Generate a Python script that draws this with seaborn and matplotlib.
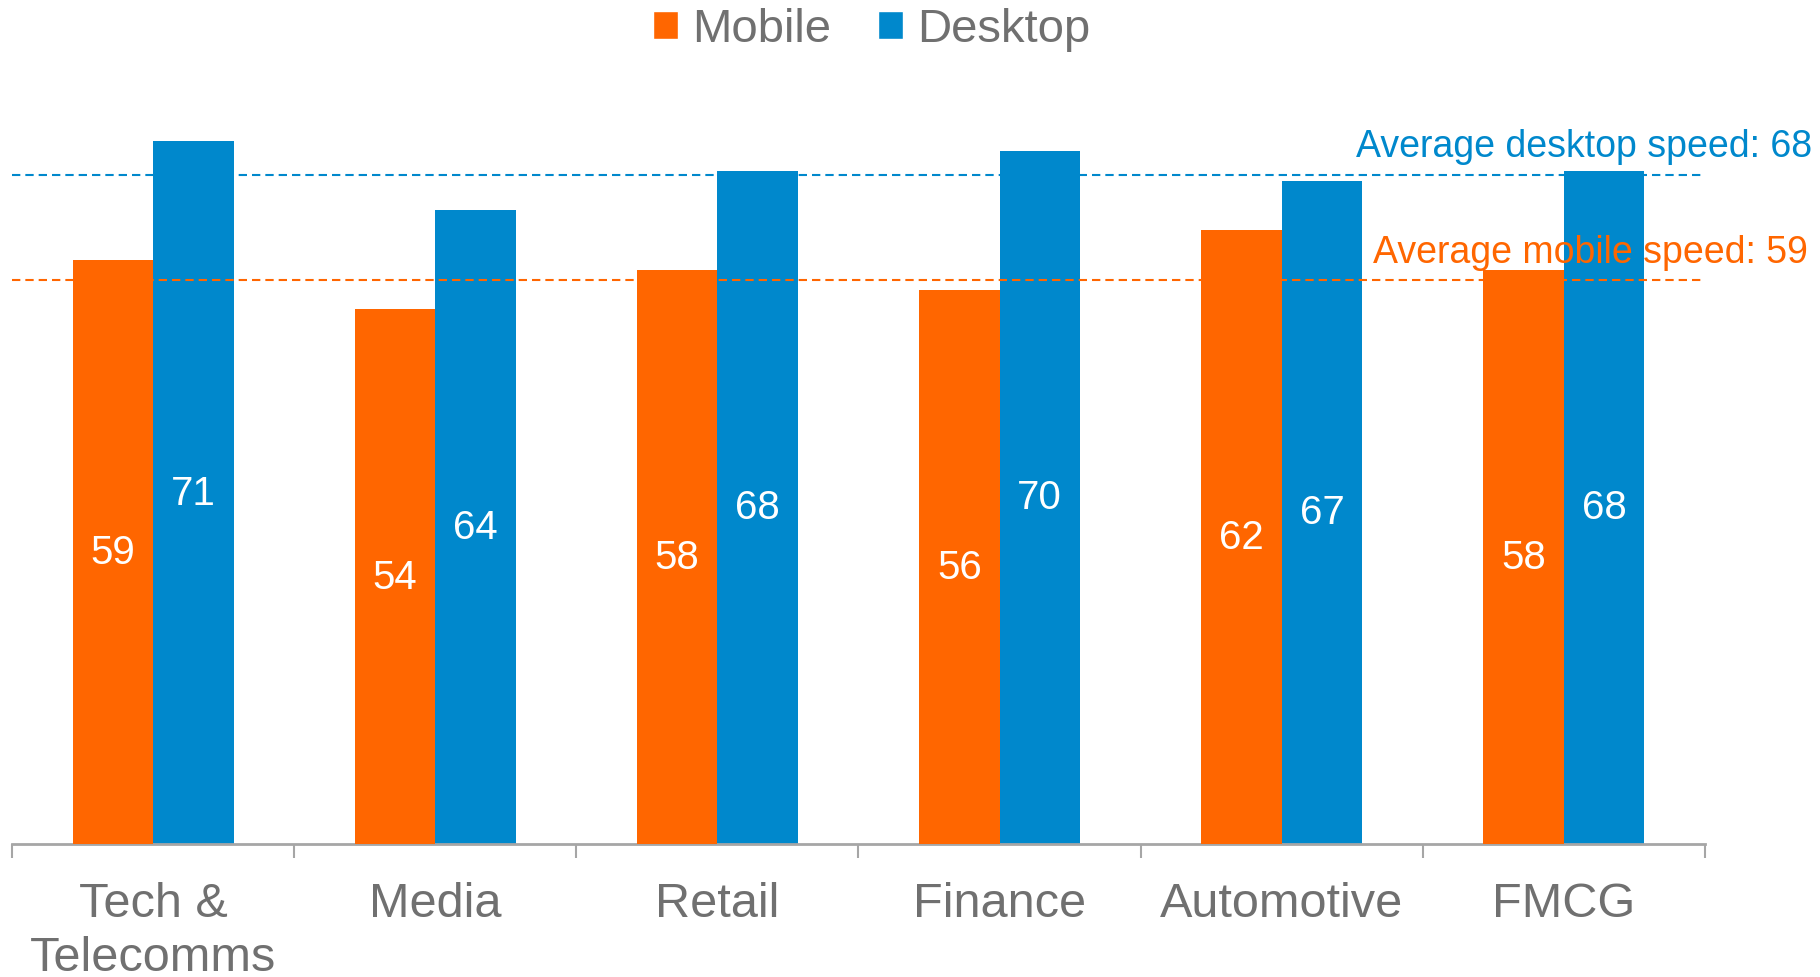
import matplotlib
matplotlib.use("Agg")
import matplotlib.pyplot as plt
import seaborn as sns
import pandas as pd
from matplotlib.ticker import FixedLocator

categories = ["Tech &\nTelecomms", "Media", "Retail", "Finance", "Automotive", "FMCG"]
mobile = [59, 54, 58, 56, 62, 58]
desktop = [71, 64, 68, 70, 67, 68]
series = ["Mobile", "Desktop"]
avg_desktop = 68
avg_mobile = 59
# positions of the dashed reference lines as drawn in the picture
desktop_line = 67.6
mobile_line = 57.0

ORANGE = "#FF6600"
BLUE = "#0088CC"
GREY = "#707070"

sns.set_theme(style="white")
plt.rcParams["font.family"] = ["Liberation Sans", "DejaVu Sans"]

df = pd.DataFrame({
    "category": categories * 2,
    "value": mobile + desktop,
    "device": [series[0]] * len(categories) + [series[1]] * len(categories),
})

fig = plt.figure(figsize=(18.2, 9.78), dpi=100)
ax = fig.add_axes([12 / 1820, 133 / 978, (1705 - 12) / 1820, 742 / 978])

sns.barplot(data=df, x="category", y="value", hue="device",
            palette={"Mobile": ORANGE, "Desktop": BLUE}, saturation=1,
            width=0.57, gap=0, ax=ax, legend=True, errorbar=None)

# z-order: desktop line < desktop bars < mobile line < mobile bars
for cont, lab in zip(ax.containers, series):
    for p in cont:
        p.set_zorder(4 if lab == "Mobile" else 2)
        p.set_linewidth(0)

ax.set_ylim(0, 742 / 9.9)
ax.set_xlim(-0.5, len(categories) - 0.5)

ax.axhline(desktop_line, color=BLUE, lw=1.5, dashes=(4, 2.4), zorder=1)
ax.axhline(mobile_line, color=ORANGE, lw=1.5, dashes=(4, 2.4), zorder=3)

tr = ax.get_yaxis_transform()
ax.text(1.063, desktop_line + 1.9, f"Average desktop speed: {avg_desktop}",
        transform=tr, ha="right", va="baseline", color=BLUE, fontsize=27,
        clip_on=False, zorder=6)
ax.text(1.061, mobile_line + 1.8, f"Average mobile speed: {avg_mobile}",
        transform=tr, ha="right", va="baseline", color=ORANGE, fontsize=27,
        clip_on=False, zorder=6)

# value labels centered inside bars
for cont in ax.containers:
    ax.bar_label(cont, labels=[f"{v:g}" for v in cont.datavalues],
                 label_type="center", color="white", fontsize=29, zorder=7)

# axes styling
for s in ["top", "right", "left"]:
    ax.spines[s].set_visible(False)
ax.spines["bottom"].set_color("#A6A6A6")
ax.spines["bottom"].set_linewidth(2)
ax.set_yticks([])
ax.set_xlabel("")
ax.set_ylabel("")
ax.xaxis.set_minor_locator(FixedLocator([i - 0.5 for i in range(len(categories) + 1)]))
ax.tick_params(axis="x", which="minor", bottom=True, length=10, width=1.5,
               color="#A6A6A6", direction="out")
ax.tick_params(axis="x", which="major", bottom=False, length=0, pad=27,
               labelsize=35, labelcolor=GREY)
for t in ax.get_xticklabels():
    t.set_linespacing(1.25)

handles, labels = ax.get_legend_handles_labels()
ax.legend_.remove()
fig.legend(handles, labels, loc="center", bbox_to_anchor=(0.479, 0.969),
           ncol=2, frameon=False, fontsize=34, labelcolor=GREY,
           handlelength=0.53, handleheight=0.53, handletextpad=0.3,
           columnspacing=1.0, borderpad=0, borderaxespad=0)

fig.savefig("out.png", dpi=100)
